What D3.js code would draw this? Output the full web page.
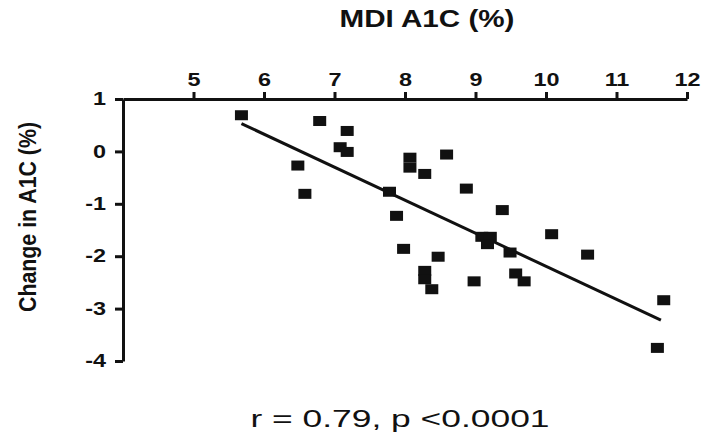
<!DOCTYPE html>
<html>
<head>
<meta charset="utf-8">
<script src="https://cdn.jsdelivr.net/npm/d3@7"></script>
<style>
  body { margin: 0; background: #fff; }
  svg text { font-family: "Liberation Sans", Arial, sans-serif; fill: #111; }
</style>
</head>
<body>
<svg id="chart" width="701" height="433"></svg>
<script>
// MDI A1C (%) for each patient
var mdiA1c = [5.68, 6.79, 7.18, 7.08, 7.18, 6.48, 6.58,
  8.07, 8.07, 8.28, 8.59, 7.78, 8.87, 7.88, 9.38, 9.09, 9.21, 9.17,
  10.08, 7.98, 8.47, 9.49, 10.59, 8.28, 8.28, 8.38, 8.98, 9.57, 9.69,
  11.67, 11.58];
// change in A1C (%)
var changeA1c = [0.69, 0.58, 0.39, 0.08, -0.01, -0.27, -0.81,
  -0.12, -0.31, -0.43, -0.06, -0.77, -0.71, -1.23, -1.12, -1.63, -1.63, -1.77,
  -1.58, -1.86, -2.01, -1.93, -1.97, -2.28, -2.44, -2.63, -2.48, -2.33, -2.48,
  -2.84, -3.75];
// regression line end points
var fitX = [5.68, 11.63];
var fitY = [0.53, -3.22];
var xTicks = [5, 6, 7, 8, 9, 10, 11, 12];
var yTicks = [-4, -3, -2, -1, 0, 1];

var svg = d3.select("#chart");
var stretch = 1.3;

var x = d3.scaleLinear().domain([4, 12]).range([123, 687]);
var y = d3.scaleLinear().domain([-4, 1]).range([361, 99]);

var xAxis = svg.append("g")
  .attr("transform", "translate(0," + y(1) + ")")
  .call(d3.axisTop(x).tickValues(xTicks).tickFormat(function(d) { return String(d); })
    .tickSize(7).tickSizeOuter(0).tickPadding(6));
xAxis.selectAll("text")
  .attr("transform", "scale(" + stretch + ",1)")
  .style("font-size", "18px").style("font-weight", "bold");

var yAxis = svg.append("g")
  .attr("transform", "translate(" + x(4) + ",0)")
  .call(d3.axisLeft(y).tickValues(yTicks).tickFormat(function(d) { return String(d); })
    .tickSize(8).tickSizeOuter(0));
yAxis.selectAll("text")
  .attr("transform", "scale(" + stretch + ",1)")
  .attr("x", -17 / stretch)
  .style("font-size", "18px").style("font-weight", "bold");

svg.selectAll(".domain, .tick line")
  .attr("stroke", "#111").attr("stroke-width", 3);

// regression line
svg.append("line")
  .attr("x1", x(fitX[0])).attr("y1", y(fitY[0]))
  .attr("x2", x(fitX[1])).attr("y2", y(fitY[1]))
  .attr("stroke", "#111").attr("stroke-width", 3);

// points
svg.selectAll(".pt")
  .data(mdiA1c)
  .enter().append("rect")
  .attr("class", "pt")
  .attr("x", function(d) { return x(d) - 6.5; })
  .attr("y", function(d, i) { return y(changeA1c[i]) - 5; })
  .attr("width", 13)
  .attr("height", 10)
  .attr("fill", "#111");

svg.append("text")
  .attr("x", 427).attr("y", 27)
  .attr("text-anchor", "middle")
  .attr("textLength", 175).attr("lengthAdjust", "spacingAndGlyphs")
  .style("font-size", "23px").style("font-weight", "bold")
  .text("MDI A1C (%)");

svg.append("text")
  .attr("transform", "translate(36,217) rotate(-90) scale(1," + stretch + ")")
  .attr("text-anchor", "middle")
  .attr("textLength", 190).attr("lengthAdjust", "spacingAndGlyphs")
  .style("font-size", "19px").style("font-weight", "bold")
  .text("Change in A1C (%)");

svg.append("text")
  .attr("x", 400).attr("y", 427)
  .attr("text-anchor", "middle")
  .attr("textLength", 299).attr("lengthAdjust", "spacingAndGlyphs")
  .style("font-size", "23px")
  .text("r = 0.79, p <0.0001");
</script>
</body>
</html>
